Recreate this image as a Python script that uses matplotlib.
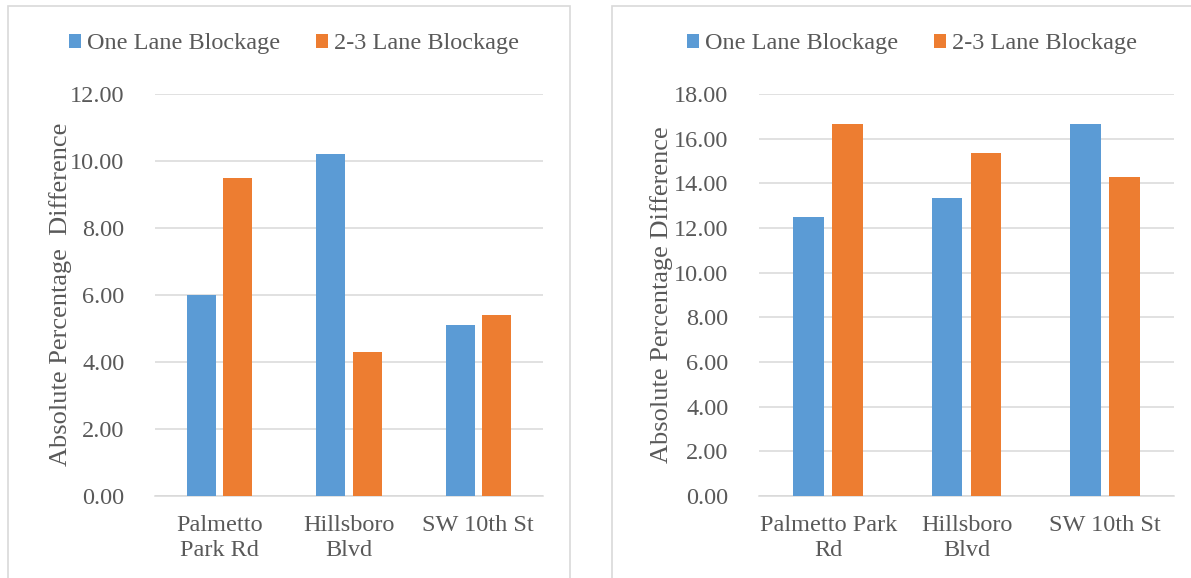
import os
import matplotlib
matplotlib.use("Agg")
import matplotlib.pyplot as plt
from matplotlib.patches import Rectangle
from matplotlib.font_manager import FontProperties, fontManager
import numpy as np

# Data
categories_left = ["Palmetto\nPark Rd", "Hillsboro\nBlvd", "SW 10th St"]
categories_right = ["Palmetto Park\nRd", "Hillsboro\nBlvd", "SW 10th St"]
series_names = ["One Lane Blockage", "2-3 Lane Blockage"]
left_one_lane = [6.0, 10.2, 5.1]
left_multi_lane = [9.5, 4.3, 5.4]
right_one_lane = [12.5, 13.33, 16.67]
right_multi_lane = [16.67, 15.38, 14.29]
left_ylabel = "Absolute Percentage  Difference"
right_ylabel = "Absolute Percentage Difference"

BLUE = "#5b9bd5"
ORANGE = "#ed7d31"
TEXT = "#595959"
GRID = "#d9d9d9"

SERIF_PATH = "/usr/share/fonts/truetype/liberation/LiberationSerif-Regular.ttf"
if os.path.exists(SERIF_PATH):
    fontManager.addfont(SERIF_PATH)


def fp(size):
    if os.path.exists(SERIF_PATH):
        return FontProperties(fname=SERIF_PATH, size=size)
    return FontProperties(family="serif", size=size)


plt.rcParams["font.family"] = "serif"
plt.rcParams["font.serif"] = ["Liberation Serif", "DejaVu Serif"]

W, H = 1191, 578
fig = plt.figure(figsize=(W / 100, H / 100), dpi=100)

# chart-area frames
fig.patches.append(Rectangle((8 / W, -0.02), (570 - 8) / W, 1.02 - 6 / H,
                             transform=fig.transFigure, fill=False,
                             edgecolor=GRID, linewidth=1.2))
fig.patches.append(Rectangle((612 / W, -0.02), 0.6, 1.02 - 6 / H,
                             transform=fig.transFigure, fill=False,
                             edgecolor=GRID, linewidth=1.2))


def draw(ax_rect, cats, one, multi, ymax, ylabel, ylabel_x, legend_x):
    ax = fig.add_axes(ax_rect)
    x = np.arange(len(cats))
    bw = 0.224
    off = 0.141
    ax.bar(x - off, one, bw, color=BLUE, label=series_names[0], zorder=3)
    ax.bar(x + off, multi, bw, color=ORANGE, label=series_names[1], zorder=3)
    ax.set_xlim(-0.5, len(cats) - 0.5)
    ax.set_ylim(0, ymax)
    ticks = np.arange(0, ymax + 0.1, 2)
    ax.set_yticks(ticks)
    ax.set_yticklabels([f"{v:.2f}" for v in ticks], fontproperties=fp(17.5))
    ax.set_xticks(x)
    ax.set_xticklabels(cats, fontproperties=fp(17.5), linespacing=1.25)
    ax.grid(axis="y", color=GRID, linewidth=1.1, zorder=0)
    for s in ["left", "right", "top"]:
        ax.spines[s].set_visible(False)
    ax.spines["bottom"].set_color(GRID)
    ax.spines["bottom"].set_linewidth(1.1)
    ax.tick_params(axis="both", length=0, colors=TEXT)
    ax.tick_params(axis="y", pad=22)
    ax.tick_params(axis="x", pad=14)
    fig.text(ylabel_x, 0.49, ylabel, rotation=90, ha="center", va="center",
             color=TEXT, fontproperties=fp(19))
    leg = ax.legend(ncol=2, loc="center", bbox_to_anchor=(legend_x, 1 - 44 / H),
                    bbox_transform=fig.transFigure, frameon=False,
                    prop=fp(17.5), handlelength=0.5, handleheight=0.5,
                    handletextpad=0.25, columnspacing=1.45)
    for t in leg.get_texts():
        t.set_color(TEXT)
    return ax


bottom = 1 - 496 / H
height = (496 - 94) / H
draw([155 / W, bottom, (543 - 155) / W, height], categories_left,
     left_one_lane, left_multi_lane, 12, left_ylabel, 61 / W, 294 / W)
draw([759 / W, bottom, (1174 - 759) / W, height], categories_right,
     right_one_lane, right_multi_lane, 18, right_ylabel, 662 / W, 912 / W)

fig.savefig("out.png", dpi=100)
